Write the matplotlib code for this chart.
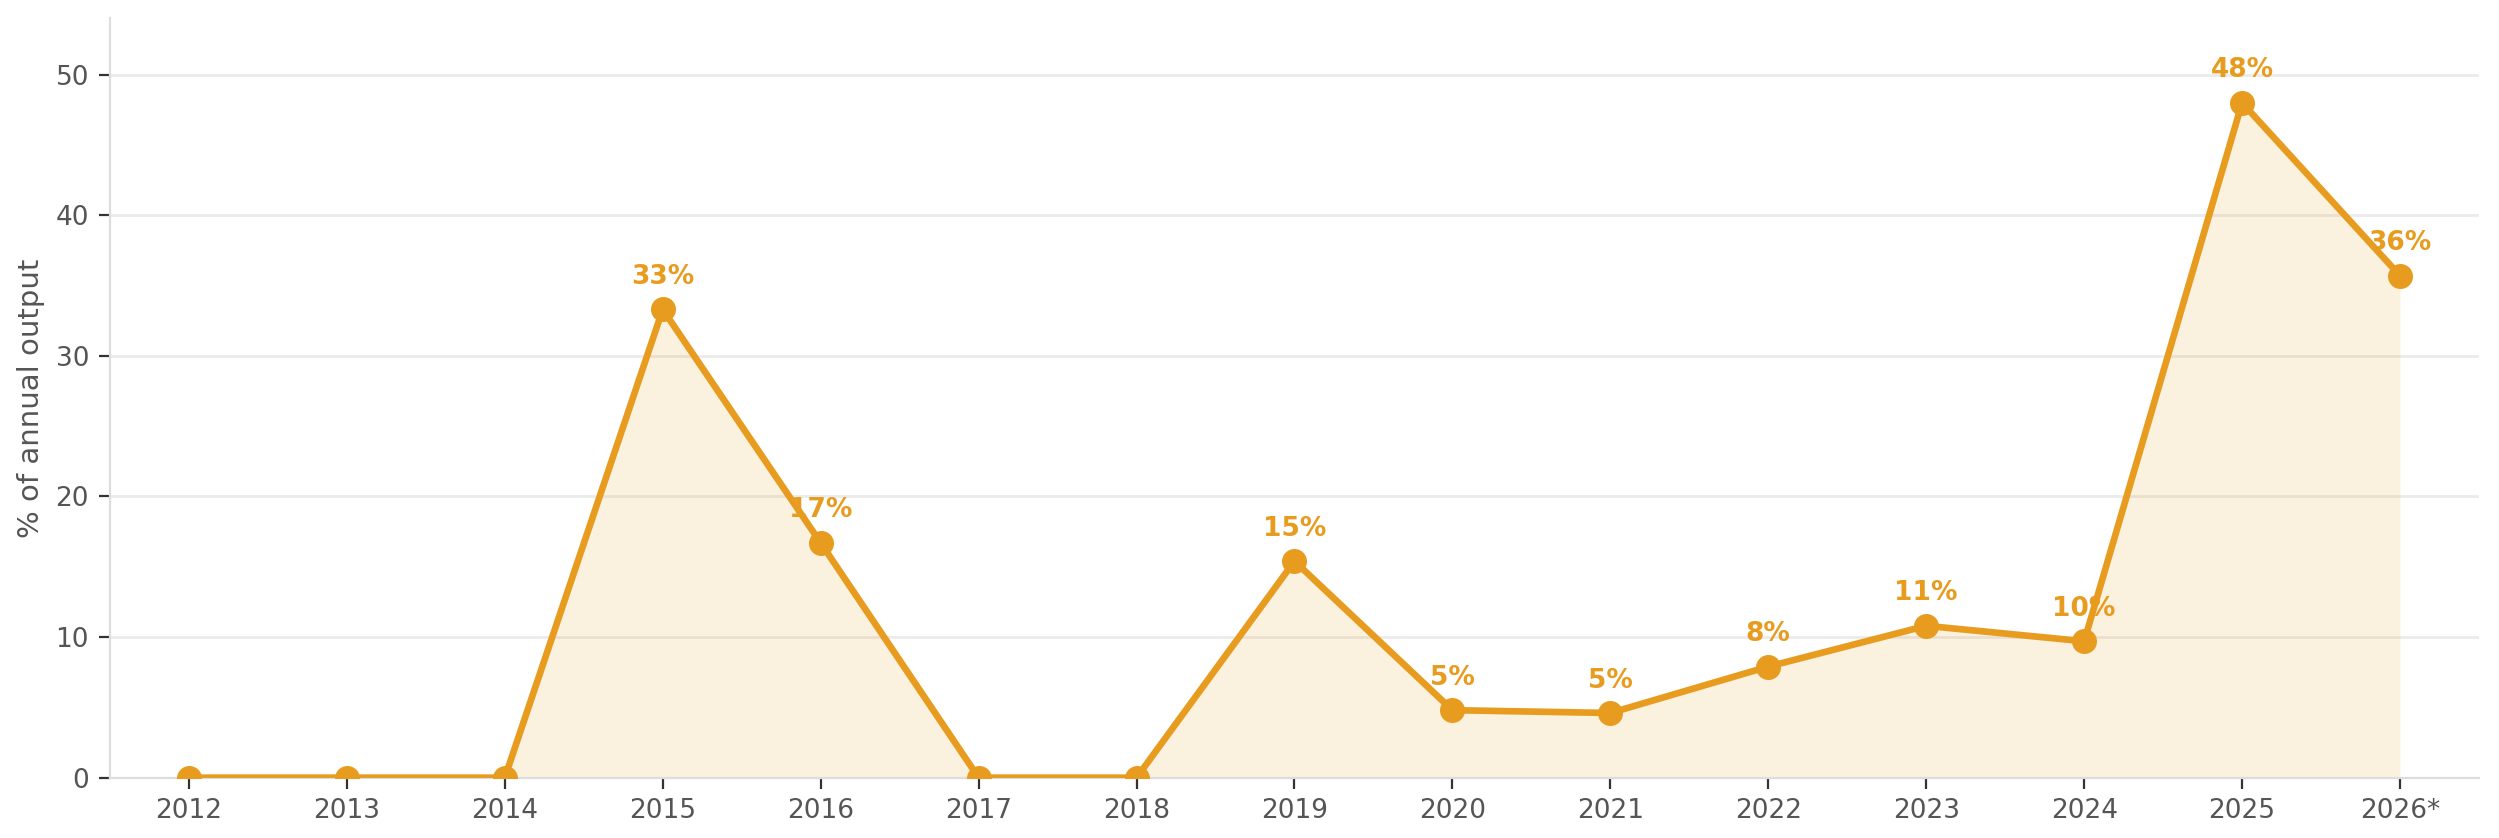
import matplotlib
matplotlib.use("Agg")
import matplotlib.pyplot as plt
import numpy as np

years = ["2012", "2013", "2014", "2015", "2016", "2017", "2018", "2019",
         "2020", "2021", "2022", "2023", "2024", "2025", "2026*"]
share = [0, 0, 0, 33.3, 16.7, 0, 0, 15.4, 4.8, 4.6, 7.9, 10.8, 9.7, 48.0, 35.7]

ORANGE = "#E89C1F"
GRAY = "#555555"


def main():
    fig, ax = plt.subplots(figsize=(12.495, 4.19), dpi=200)
    x = np.arange(len(years))

    ax.fill_between(x, share, 0, color=ORANGE, alpha=0.14, linewidth=0)
    ax.plot(x, share, color=ORANGE, linewidth=2.4, marker="o", markersize=8, zorder=3)

    for xi, v in zip(x, share):
        if v > 0:
            ax.annotate(f"{v:.0f}%", (xi, v), xytext=(0, 7), textcoords="offset points",
                        ha="center", va="bottom", fontsize=9.5, fontweight="bold", color=ORANGE)

    ax.set_xlim(-0.5, len(years) - 0.5)
    ax.set_ylim(0, 54)
    ax.set_yticks([0, 10, 20, 30, 40, 50])
    ax.set_xticks(x, labels=years)
    ax.set_ylabel("% of annual output", fontsize=10.5, color=GRAY)

    ax.grid(axis="y", color="#ebebeb", linewidth=1)
    ax.set_axisbelow(True)
    for side in ["top", "right"]:
        ax.spines[side].set_visible(False)
    for side in ["left", "bottom"]:
        ax.spines[side].set_color("#dddddd")
    ax.tick_params(labelsize=9.5, labelcolor=GRAY, color="#333333", length=4)

    fig.subplots_adjust(left=0.044, right=0.992, top=0.978, bottom=0.072)
    fig.savefig("out.png", dpi=200)
    plt.close(fig)


if __name__ == "__main__":
    main()
